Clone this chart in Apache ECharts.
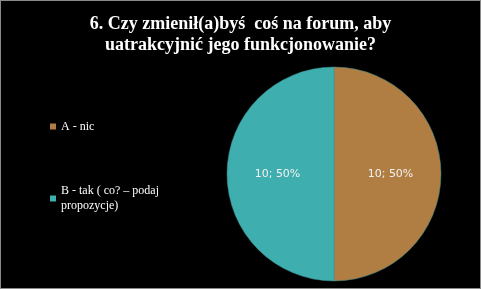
<!DOCTYPE html>
<html>
<head>
<meta charset="utf-8">
<script src="https://cdn.jsdelivr.net/npm/echarts@6/dist/echarts.min.js"></script>
<style>
  html, body { margin: 0; padding: 0; background: #000; }
  #chart { width: 479px; height: 287px; border: 1px solid #8a8a8a; background: #000; }
</style>
</head>
<body>
<div id="chart"></div>
<script>
// Survey question 6 answers
const titleText = '6. Czy zmienił(a)byś  coś na forum, aby\nuatrakcyjnić jego funkcjonowanie?';
const categories = ['A - nic', 'B - tak ( co? – podaj propozycje)'];
const values = [10, 10];
const colors = ['#B07D42', '#3FAEAE'];

const total = values.reduce((a, b) => a + b, 0);
const chart = echarts.init(document.getElementById('chart'));

const legendBase = {
  orient: 'vertical',
  left: 44,
  icon: 'rect',
  itemWidth: 6,
  itemHeight: 6,
  selectedMode: false,
  itemStyle: { borderWidth: 0 },
  textStyle: {
    color: '#ffffff',
    fontFamily: 'Liberation Serif',
    fontSize: 12,
    lineHeight: 15,
    width: 108,
    overflow: 'break'
  }
};

chart.setOption({
  backgroundColor: '#000',
  color: colors,
  title: {
    text: titleText,
    left: 'center',
    top: 8,
    textStyle: {
      color: '#ffffff',
      fontFamily: 'Liberation Serif',
      fontWeight: 'bold',
      fontSize: 18,
      lineHeight: 21
    }
  },
  legend: [
    Object.assign({}, legendBase, { top: 113, data: [categories[0]] }),
    Object.assign({}, legendBase, {
      top: 170,
      data: [categories[1]],
      textStyle: Object.assign({}, legendBase.textStyle, { padding: [15, 0, 0, 0] })
    })
  ],
  series: [{
    type: 'pie',
    center: [333, 173],
    radius: 107,
    startAngle: 90,
    clockwise: true,
    animation: false,
    data: categories.map((name, i) => ({ name, value: values[i] })),
    itemStyle: { borderColor: '#3a8f93', borderWidth: 0.5 },
    label: {
      position: 'inside',
      color: '#f2f2f2',
      fontFamily: 'DejaVu Sans',
      fontSize: 11,
      formatter: p => p.value + '; ' + Math.round(p.value / total * 100) + '%'
    },
    labelLine: { show: false },
    emphasis: { disabled: true }
  }]
});
</script>
</body>
</html>
